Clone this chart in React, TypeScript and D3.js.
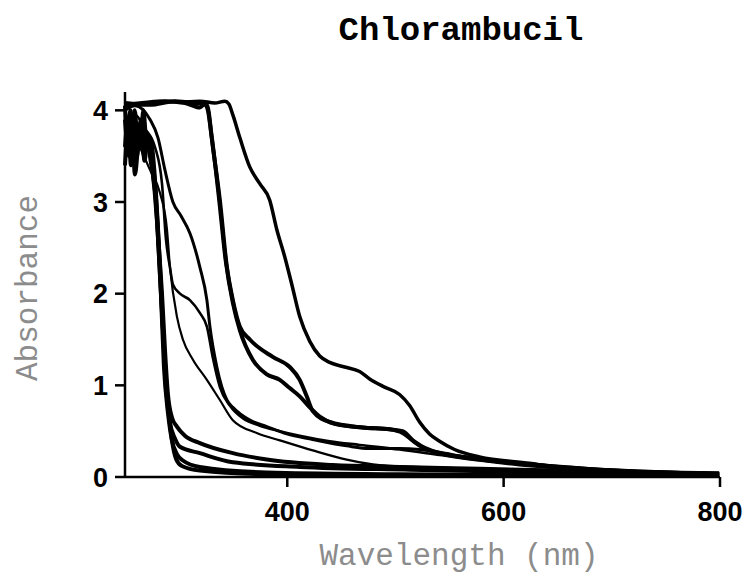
import React from "react";
import * as d3 from "d3";

const title = "Chlorambucil";
const xTitle = "Wavelength (nm)";
const yTitle = "Absorbance";
const xTicks = [400, 600, 800];
const yTicks = [0, 1, 2, 3, 4];

const curve1: [number, number][] = [[250,4.06],[263.8,4.08],[282.3,4.1],[300.8,4.09],[319.2,4.1],[333.1,4.08],[342.3,4.1],[346,4.07],[349.7,3.95],[356.2,3.7],[365.4,3.38],[374.6,3.2],[383.8,3.02],[390.3,2.7],[397.7,2.4],[404.2,2.1],[411.5,1.75],[420.8,1.48],[430,1.32],[439.2,1.25],[453.1,1.2],[466.9,1.15],[476.2,1.07],[490,0.98],[503.8,0.9],[513.1,0.78],[522.3,0.6],[531.5,0.47],[540.8,0.39],[554.6,0.3],[577.7,0.22],[623.8,0.15],[648.8,0.11],[688.5,0.08],[734.6,0.05],[799.2,0.03]];
const curve2: [number, number][] = [[250,4.05],[268.5,4.07],[286.9,4.1],[305.4,4.08],[319.2,4.03],[323.8,4.07],[326.6,4.0],[331.2,3.6],[337.7,3.02],[344.2,2.29],[349.7,1.93],[356.2,1.64],[365.4,1.5],[386.6,1.31],[402.3,1.2],[411.5,1.06],[418,0.88],[423.5,0.72],[439.2,0.6],[469.7,0.54],[494.6,0.52],[506.6,0.48],[515.8,0.4],[525.1,0.33],[538,0.27],[559.2,0.22],[596.1,0.17],[642.3,0.12],[688.5,0.08],[799.2,0.04]];
const curve3: [number, number][] = [[250,4.08],[273.1,4.06],[296.2,4.1],[314.6,4.08],[325.7,4.06],[330.3,3.7],[336.8,3.05],[343.2,2.35],[349.7,1.9],[356.2,1.6],[368.1,1.28],[381.1,1.12],[393.1,1.06],[402.3,0.97],[411.5,0.88],[420.8,0.76],[430,0.66],[443.8,0.58],[469.7,0.54],[494.6,0.52],[506.6,0.5],[517.7,0.38],[526.9,0.31],[540.8,0.26],[568.4,0.21],[605.4,0.16],[651.5,0.11],[706.9,0.07],[799.2,0.03]];
const curve4: [number, number][] = [[250,4.0],[259.2,4.05],[273.1,3.9],[280.5,3.7],[286.9,3.35],[294.3,3.0],[301.7,2.85],[310,2.66],[319.2,2.29],[325.7,1.93],[328.5,1.64],[334.9,1.2],[344.2,0.84],[349.7,0.76],[365.4,0.62],[381.1,0.55],[399.5,0.47],[423.5,0.41],[454.9,0.34],[476.2,0.31],[503.8,0.31],[522.3,0.3],[540.8,0.27],[559.2,0.23],[577.7,0.19],[623.8,0.13],[688.5,0.08],[799.2,0.04]];
const curve5: [number, number][] = [[250,3.85],[259.2,3.95],[268.5,3.8],[277.7,3.6],[284.2,3.2],[287.8,2.6],[291.5,2.29],[294.3,2.1],[300.8,2.0],[310,1.93],[319.2,1.79],[325.7,1.64],[331.2,1.3],[337.7,0.98],[346.9,0.78],[358.9,0.64],[374.6,0.56],[393.1,0.5],[411.5,0.45],[439.2,0.39],[466.9,0.35],[503.8,0.3],[540.8,0.24],[577.7,0.18],[614.6,0.13],[688.5,0.07],[799.2,0.04]];
const curve6: [number, number][] = [[250,3.95],[254.6,3.85],[263.8,3.6],[273.1,3.35],[282.3,3.1],[288.8,2.7],[291.5,2.3],[298,1.75],[303.5,1.5],[312.8,1.28],[325.7,1.06],[337.7,0.84],[349.7,0.62],[371.8,0.48],[393.1,0.4],[423.5,0.29],[454.9,0.19],[485.4,0.13],[547.2,0.1],[614.6,0.08],[688.5,0.06],[799.2,0.03]];
const curveA1: [number, number][] = [[250,3.6],[252.8,3.9],[255.5,3.4],[258.3,3.7],[261.1,3.5],[263.8,3.8],[266.6,3.55],[269.4,3.7],[273.1,3.6],[277.7,3.2],[281.4,2.5],[284.2,2.0],[286.9,1.4],[289.7,0.9],[293.4,0.65],[298,0.55],[305.4,0.45],[319.2,0.37],[349.7,0.26],[381.1,0.19],[442,0.13],[503.8,0.11],[577.7,0.09],[651.5,0.07],[725.4,0.05],[799.2,0.03]];
const curveA2: [number, number][] = [[250,3.9],[253.7,3.5],[256.4,3.8],[259.2,3.3],[262,3.6],[264.7,3.9],[267.5,3.5],[270.3,3.75],[273.1,3.5],[278.6,3.0],[282.3,2.2],[285.1,1.6],[287.8,1.0],[291.5,0.6],[296.2,0.42],[300.8,0.33],[319.2,0.26],[349.7,0.16],[411.5,0.11],[514,0.08],[596.1,0.06],[688.5,0.04],[799.2,0.03]];
const curveA3: [number, number][] = [[250,3.4],[253,3.8],[256,3.55],[259,4.0],[262,3.6],[265,3.9],[268,3.45],[271,3.7],[274.9,3.4],[279.5,2.8],[283.2,2.0],[286,1.2],[289.7,0.7],[293.4,0.4],[298,0.25],[303.5,0.18],[319.2,0.11],[381.1,0.05],[503.8,0.03],[799.2,0.01]];
const curveA4: [number, number][] = [[250,4.05],[252,3.7],[255,4.0],[258,3.45],[261,3.85],[264,3.6],[267,4.0],[270,3.65],[273.1,3.7],[278.6,3.1],[282.3,2.3],[286,1.4],[289.7,0.8],[293.4,0.4],[297.1,0.2],[302.6,0.12],[319.2,0.07],[381.1,0.03],[503.8,0.02],[799.2,0.01]];

const series = [
  { data: curve1, w: 3.5 },
  { data: curve2, w: 4 },
  { data: curve3, w: 4 },
  { data: curve4, w: 3 },
  { data: curve5, w: 2.6 },
  { data: curve6, w: 2.2 },
  { data: curveA1, w: 4 },
  { data: curveA2, w: 4 },
  { data: curveA3, w: 4 },
  { data: curveA4, w: 4 },
];

export default function App() {
  const W = 749, H = 576;
  const x = d3.scaleLinear().domain([250, 800]).range([125, 720]);
  const y = d3.scaleLinear().domain([0, 4.2]).range([477, 92]);
  const line = d3
    .line<[number, number]>()
    .x((d) => x(d[0]))
    .y((d) => y(d[1]))
    .curve(d3.curveMonotoneX);
  const tickFont = "'Liberation Sans', Arial, sans-serif";
  const mono = "'Liberation Mono', 'Courier New', monospace";
  return (
    <svg
      width={W}
      height={H}
      style={{ position: "absolute", left: 0, top: 0, background: "#fff" }}
    >
      <rect x={0} y={0} width={W} height={H} fill="#fff" />
      <text x={461} y={40} textAnchor="middle" fontFamily={mono} fontWeight="bold" fontSize={34} fill="#000">
        {title}
      </text>
      <g>
        {series.map((s, i) => (
          <path key={i} d={line(s.data) || ""} fill="none" stroke="#000" strokeWidth={s.w} strokeLinejoin="round" />
        ))}
      </g>
      <line x1={x(250)} x2={x(800)} y1={y(0)} y2={y(0)} stroke="#000" strokeWidth={2.5} />
      <line x1={x(250)} x2={x(250)} y1={y(0)} y2={y(4.2)} stroke="#000" strokeWidth={2.5} />
      {xTicks.map((t) => (
        <g key={t}>
          <line x1={x(t)} x2={x(t)} y1={y(0)} y2={y(0) + 10} stroke="#000" strokeWidth={2.5} />
          <text x={x(t)} y={521} textAnchor="middle" fontFamily={tickFont} fontWeight="bold" fontSize={27} fill="#000">
            {t}
          </text>
        </g>
      ))}
      {yTicks.map((t) => (
        <g key={t}>
          <line x1={x(250) - 10} x2={x(250)} y1={y(t)} y2={y(t)} stroke="#000" strokeWidth={2.5} />
          <text x={108} y={y(t)} dy="0.36em" textAnchor="end" fontFamily={tickFont} fontWeight="bold" fontSize={27} fill="#000">
            {t}
          </text>
        </g>
      ))}
      <text x={459} y={565} textAnchor="middle" fontFamily={mono} fontSize={31} fill="#8c8c8c">
        {xTitle}
      </text>
      <text
        transform={`translate(37,288) rotate(-90)`}
        textAnchor="middle"
        fontFamily={mono}
        fontSize={31}
        fill="#8c8c8c"
      >
        {yTitle}
      </text>
    </svg>
  );
}
